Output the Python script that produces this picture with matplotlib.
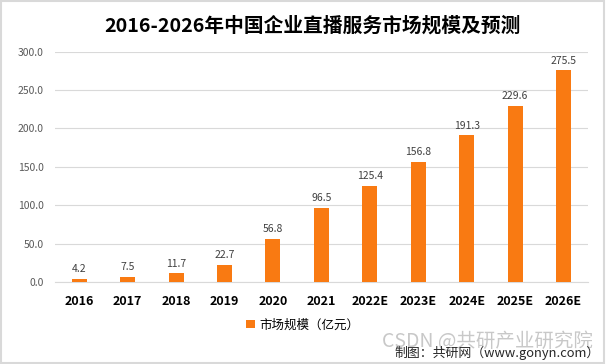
import matplotlib.pyplot as plt
from matplotlib.patches import Rectangle

plt.rcParams['font.family'] = ['Noto Sans CJK SC', 'DejaVu Sans']

# 数据
years = ['2016', '2017', '2018', '2019', '2020', '2021',
         '2022E', '2023E', '2024E', '2025E', '2026E']
market_size = [4.2, 7.5, 11.7, 22.7, 56.8, 96.5, 125.4, 156.8, 191.3, 229.6, 275.5]
y_ticks = [0, 50, 100, 150, 200, 250, 300]

bar_color = '#F97A12'

fig = plt.figure(figsize=(6.06, 3.64), dpi=100)
fig.patches.append(Rectangle((0.002, 0.003), 0.995, 0.993, transform=fig.transFigure,
                             fill=False, edgecolor='#D9D9D9', linewidth=1.5))

ax = fig.add_axes([0.0908, 0.2245, 0.879, 0.634])
x = range(len(years))
bars = ax.bar(x, market_size, width=0.31, color=bar_color, zorder=3,
              label='市场规模（亿元）')

for xi, v in zip(x, market_size):
    ax.text(xi, v + 6, f'{v:.1f}', ha='center', va='bottom', fontsize=7.5, color='#404040')

ax.set_xlim(-0.5, len(years) - 0.5)
ax.set_ylim(0, 300)
ax.set_yticks(y_ticks)
ax.set_yticklabels([f'{t:.1f}' for t in y_ticks], fontsize=7.5, color='#595959')
ax.set_xticks(list(x))
ax.set_xticklabels(years, fontsize=9, fontweight='bold', color='black')
ax.tick_params(axis='both', length=0)
ax.tick_params(axis='x', pad=9)
ax.tick_params(axis='y', pad=8)
ax.grid(axis='y', color='#D9D9D9', linewidth=0.8, zorder=0)
for s in ['top', 'right', 'left']:
    ax.spines[s].set_visible(False)
ax.spines['bottom'].set_color('#D9D9D9')

fig.text(0.515, 0.93, '2016-2026年中国企业直播服务市场规模及预测', ha='center', va='center',
         fontsize=14.2, fontweight='bold')

ax.legend(loc='center', bbox_to_anchor=(0.465, -0.185), frameon=False, fontsize=9,
          handlelength=0.7, handleheight=0.7, handletextpad=0.3)

fig.text(0.978, 0.062, 'CSDN @共研产业研究院', ha='right', va='center', fontsize=14,
         color='#C8C8C8')
fig.text(0.99, 0.03, '制图：共研网（www.gonyn.com）', ha='right', va='center', fontsize=9.3,
         color='#262626')

fig.savefig('out.png', dpi=100)
